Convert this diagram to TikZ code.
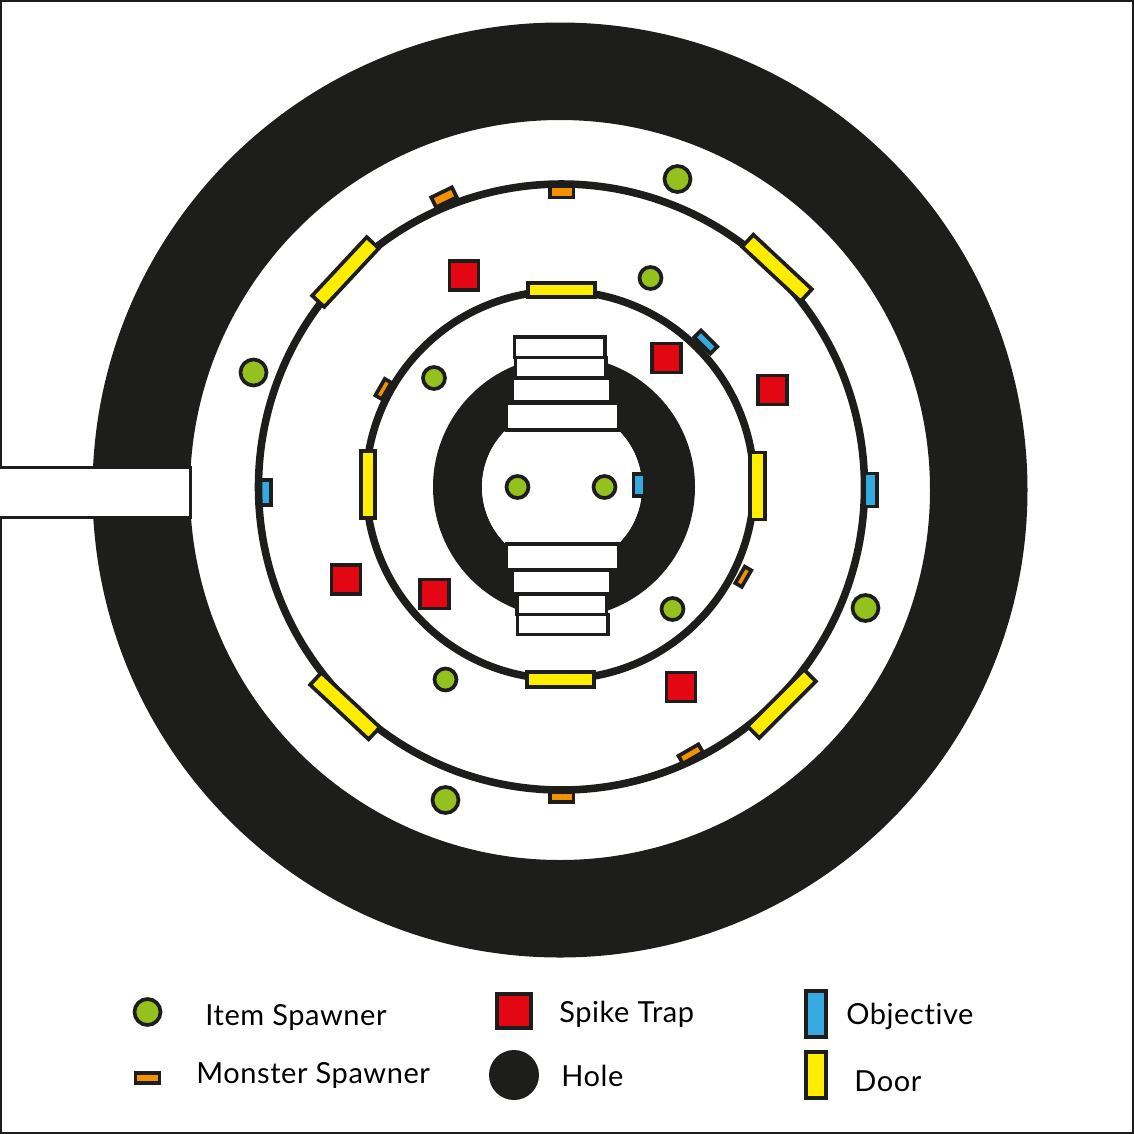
\documentclass[tikz,border=0pt]{standalone}
\usepackage{fontspec}
\setmainfont{Lato}[Ligatures=NoCommon, LetterSpace=2]
\definecolor{arenaBlack}{HTML}{1D1D1B}
\definecolor{itemGreen}{HTML}{95C11F}
\definecolor{spikeRed}{HTML}{E30613}
\definecolor{objectiveBlue}{HTML}{36A9E1}
\definecolor{doorYellow}{HTML}{FFED00}
\definecolor{monsterOrange}{HTML}{F39200}
\tikzset{
  piece/.style={draw=arenaBlack, line width=2.1pt, inner sep=0pt, outer sep=0pt, minimum width=#1},
  stairblock/.style={draw=arenaBlack, fill=white, line width=2.1pt},
  itemspawner/.style={circle, draw=arenaBlack, line width=2.1pt, fill=itemGreen, inner sep=0pt},
  spiketrap/.style={piece=29*0.02cm, minimum height=29*0.02cm, fill=spikeRed},
  legendtext/.style={font=\fontsize{16.5}{18}\selectfont, text=black, anchor=base west, inner sep=0pt},
}
\begin{document}
\begin{tikzpicture}[x=0.02cm, y=-0.02cm]
            \useasboundingbox (0,0) rectangle (1134,1134);
            \draw[arenaBlack, line width=1.2pt] (1,1) rectangle (1133,1133);
            \fill[arenaBlack, even odd rule] (560,490) circle (467.5) (560,490) circle (370);
            \filldraw[stairblock] (-5,467.5) rectangle (190.5,517.5);
            \node[piece=11*0.02cm, minimum height=25*0.02cm, fill=objectiveBlue] (objectivea) at (265.7,492.8) {};
            \draw[arenaBlack, line width=4.3pt] (561.5,487) circle (303);
            \draw[arenaBlack, line width=4.3pt] (560,485) circle (194);
            \fill[arenaBlack, even odd rule] (564,487) circle (131) (562,487) circle (80);
            \begin{scope}
                \clip (400,432) rectangle (700,542);
                \fill[white] (562,487) circle (80);
            \end{scope}
            \node[piece=11*0.02cm, minimum height=22*0.02cm, fill=objectiveBlue] (objectivec) at (639,485) {};
            \foreach \xa/\ya/\xb/\yb in {514.5/336.9/605.2/357.5, 515.5/357.5/606/378.5, 512.1/378.1/610.9/401.9, 506.5/403.5/619/430, 506.5/543.9/619/570, 512.5/569.9/611/593.5, 517/594/606.5/614.5, 517.5/614.5/607.8/634.5} {
                \filldraw[stairblock] (\xa,\ya) rectangle (\xb,\yb);
            }
            \foreach \n/\x/\y/\d in {a/677.5/179/26, b/650.5/278/22, c/253.5/372.5/26, d/434/378/22, e/517.5/487/22, f/604.5/487/22, g/672.5/609/22, h/865.5/608/26, i/445.5/679.5/22, j/445.5/800/26} {
                \node[itemspawner, minimum size=\d*0.02cm] (item\n) at (\x,\y) {};
            }
            \foreach \n/\x/\y in {a/464/275.5, b/666.5/358, c/772.5/390, d/346/579.5, e/434.5/594, f/681/687} {
                \node[spiketrap] (spike\n) at (\x,\y) {};
            }
            \foreach \n/\x/\y/\r/\w/\h in {a/561.5/290/0/67/14.5, b/560.5/679.5/0/67/14.5, c/368/484.5/0/14.5/67, d/757.5/486/0/14.5/67, e/345.5/272/47/80/16.5, f/777/268/-43/80/16.5, g/781.7/703.8/45/80/16.5, h/345/706/-43/80/16.5} {
                \node[piece=\w*0.02cm, minimum height=\h*0.02cm, fill=doorYellow, rotate=\r] (door\n) at (\x,\y) {};
            }
            \foreach \n/\x/\y/\r/\w/\h in {d/870.3/490/0/13/33, e/705.7/342/-45/23/9.5} {
                \node[piece=\w*0.02cm, minimum height=\h*0.02cm, fill=objectiveBlue, rotate=\r] (objective\n) at (\x,\y) {};
            }
            \foreach \n/\x/\y/\r/\w/\h in {a/561.7/192/0/23.5/11, b/444/197.3/26/23/11, c/383.3/389/60/19/7.5, d/743.3/576.7/60/19/7.5, e/690.7/754/30/23/9, f/561.7/797/0/23.5/10} {
                \node[piece=\w*0.02cm, minimum height=\h*0.02cm, fill=monsterOrange, rotate=\r] (monster\n) at (\x,\y) {};
            }
            \node[itemspawner, minimum size=26*0.02cm] (legenditem) at (147.5,1012) {};
            \node[piece=24*0.02cm, minimum height=10*0.02cm, fill=monsterOrange] (legendmonster) at (147.5,1078) {};
            \node[piece=34*0.02cm, minimum height=34*0.02cm, fill=spikeRed] (legendspike) at (514,1011) {};
            \node[circle, fill=arenaBlack, minimum size=50*0.02cm, inner sep=0pt] (legendhole) at (514,1075) {};
            \node[piece=20*0.02cm, minimum height=46*0.02cm, fill=objectiveBlue] (legendobjective) at (816,1014) {};
            \node[piece=20*0.02cm, minimum height=46*0.02cm, fill=doorYellow] (legenddoor) at (816,1075) {};
            \node[legendtext] (labelitem) at (205,1025) {Item Spawner};
            \node[legendtext] (labelmonster) at (196,1083) {Monster Spawner};
            \node[legendtext] (labelspike) at (559,1022) {Spike Trap};
            \node[legendtext] (labelhole) at (561,1086) {Hole};
            \node[legendtext] (labelobjective) at (846,1024) {Objective};
            \node[legendtext] (labeldoor) at (854,1091) {Door};
        \end{tikzpicture}
\end{document}
